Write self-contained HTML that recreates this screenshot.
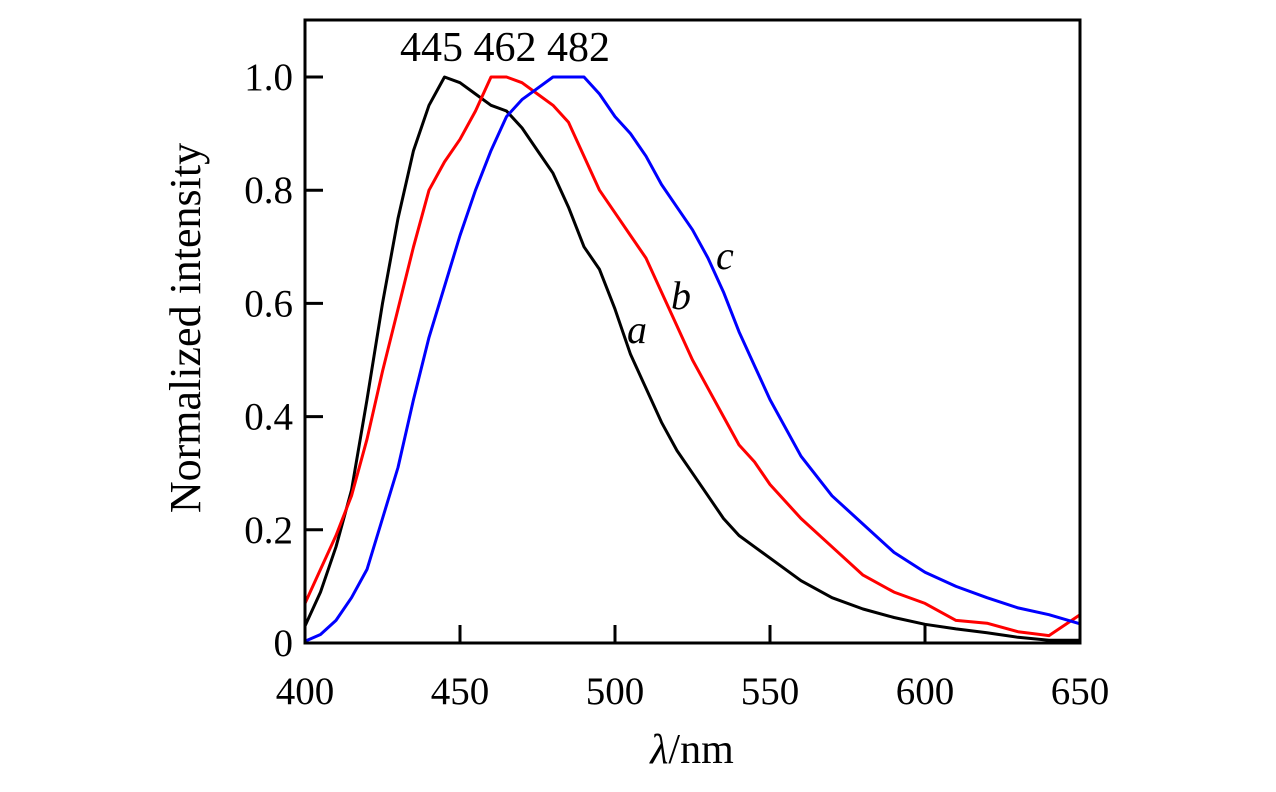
<!DOCTYPE html>
<html><head><meta charset="utf-8"><style>
body{margin:0;background:#fff;}
svg text{font-family:"Liberation Serif",serif;fill:#000;}
</style></head><body>
<svg width="1276" height="787">
<g id="plot"></g>
</svg>
<script>
const xs=[400,405,410,415,420,425,430,435,440,445,450,455,460,465,470,475,480,485,490,495,500,505,510,515,520,525,530,535,540,545,550,560,570,580,590,600,610,620,630,640,650];
const seriesA=[0.03,0.09,0.17,0.27,0.43,0.6,0.75,0.87,0.95,1.0,0.99,0.97,0.95,0.94,0.91,0.87,0.83,0.77,0.70,0.66,0.59,0.51,0.45,0.39,0.34,0.30,0.26,0.22,0.19,0.17,0.15,0.11,0.08,0.06,0.045,0.033,0.025,0.018,0.01,0.005,0.005];
const seriesB=[0.07,0.13,0.19,0.26,0.36,0.48,0.59,0.70,0.80,0.85,0.89,0.94,1.0,1.0,0.99,0.97,0.95,0.92,0.86,0.80,0.76,0.72,0.68,0.62,0.56,0.50,0.45,0.40,0.35,0.32,0.28,0.22,0.17,0.12,0.09,0.07,0.04,0.035,0.02,0.013,0.05];
const seriesC=[0.003,0.015,0.04,0.08,0.13,0.22,0.31,0.43,0.54,0.63,0.72,0.80,0.87,0.93,0.96,0.98,1.0,1.0,1.0,0.97,0.93,0.90,0.86,0.81,0.77,0.73,0.68,0.62,0.55,0.49,0.43,0.33,0.26,0.21,0.16,0.125,0.10,0.08,0.062,0.05,0.034];
const xTicks=[400,450,500,550,600,650];
const yTicks=[0,0.2,0.4,0.6,0.8,1.0];
const yTickLabels=["0","0.2","0.4","0.6","0.8","1.0"];
const X=v=>305+(v-400)*3.1;
const Y=v=>643-v*566;
const ns="http://www.w3.org/2000/svg";
const g=document.getElementById('plot');
function mk(t,a,txt){const e=document.createElementNS(ns,t);for(const k in a)e.setAttribute(k,a[k]);if(txt!==undefined)e.textContent=txt;g.appendChild(e);return e;}
function line(d,color,name){
 const p=mk('path',{d:d.map((v,i)=>(i?'L':'M')+X(xs[i]).toFixed(1)+','+Y(v).toFixed(1)).join(''),fill:'none',stroke:color,'stroke-width':3,'stroke-linejoin':'round'});
 
 
}
line(seriesA,'#000','series-a');
line(seriesB,'#f00','series-b');
line(seriesC,'#00f','series-c');
const fr=mk('rect',{x:305,y:20,width:775,height:623,fill:'none',stroke:'#000','stroke-width':3});


xTicks.forEach(t=>{
 const l=mk('line',{x1:X(t),x2:X(t),y1:643,y2:625,stroke:'#000','stroke-width':3});
 
 
 const tx=mk('text',{x:X(t),y:704,'text-anchor':'middle','font-size':39},String(t));
 
 
});
yTicks.forEach((t,i)=>{
 const l=mk('line',{x1:305,x2:323,y1:Y(t),y2:Y(t),stroke:'#000','stroke-width':3});
 
 
 const tx=mk('text',{x:293,y:Y(t)+13,'text-anchor':'end','font-size':39},yTickLabels[i]);
 
 
});
const yt=mk('text',{x:0,y:0,transform:'translate(200,328) rotate(-90)','text-anchor':'middle','font-size':44},'Normalized intensity');


const xt=mk('text',{x:692,y:763,'text-anchor':'middle','font-size':42});
xt.innerHTML='<tspan font-style="italic">λ</tspan>/nm';


const pk=mk('text',{x:505,y:61,'text-anchor':'middle','font-size':42},'445 462 482');


[['a',627,343],['b',671,309],['c',716,269]].forEach(([s,x,y])=>{
 const t=mk('text',{x:x,y:y,'font-size':40,'font-style':'italic'},s);
 
 
});
</script>
</body></html>
